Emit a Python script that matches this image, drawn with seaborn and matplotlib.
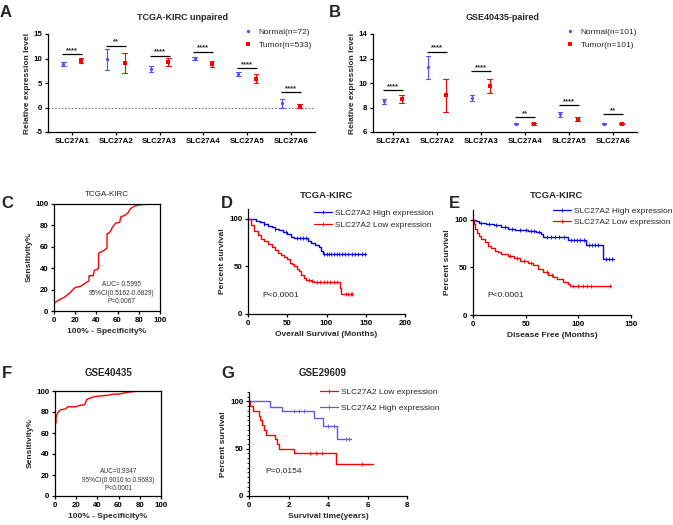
import numpy as np
import pandas as pd
import matplotlib
matplotlib.use("Agg")
import matplotlib.pyplot as plt
import seaborn as sns
from matplotlib.lines import Line2D

sns.set_style("ticks")
plt.rcParams['font.family'] = ['Liberation Sans', 'DejaVu Sans']
plt.rcParams['axes.linewidth'] = 0.9
plt.rcParams['xtick.major.width'] = 0.9
plt.rcParams['ytick.major.width'] = 0.9
plt.rcParams['xtick.color'] = 'black'
plt.rcParams['ytick.color'] = 'black'
plt.rcParams['axes.edgecolor'] = 'black'

W, H = 673, 525

# ---------------- data ----------------
genes = ["SLC27A1", "SLC27A2", "SLC27A3", "SLC27A4", "SLC27A5", "SLC27A6"]

# Panel A: TCGA-KIRC unpaired
a_normal_mean = [8.9, 9.8, 7.9, 9.9, 6.8, 0.9]
a_normal_low = [8.5, 7.6, 7.3, 9.6, 6.5, 0.0]
a_normal_high = [9.3, 12.0, 8.5, 10.3, 7.2, 1.8]
a_tumor_mean = [9.5, 9.0, 9.2, 8.8, 5.9, 0.3]
a_tumor_low = [9.0, 7.0, 8.5, 8.2, 5.0, -0.2]
a_tumor_high = [10.1, 11.2, 10.1, 9.5, 6.9, 0.7]
a_sig_y = [10.95, 12.65, 10.6, 11.4, 8.0, 3.2]
a_sig = ["****", "**", "****", "****", "****", "****"]

# Panel B: GSE40435 paired
b_normal_mean = [8.49, 11.28, 8.76, 6.68, 7.46, 6.68]
b_normal_low = [8.3, 10.35, 8.5, 6.62, 7.25, 6.64]
b_normal_high = [8.7, 12.2, 9.05, 6.74, 7.65, 6.72]
b_tumor_mean = [8.71, 8.98, 9.77, 6.62, 7.06, 6.68]
b_tumor_low = [8.4, 7.65, 9.2, 6.55, 6.9, 6.64]
b_tumor_high = [9.0, 10.3, 10.35, 6.7, 7.2, 6.74]
b_sig_y = [9.39, 12.56, 10.99, 7.22, 8.2, 7.44]
b_sig = ["****", "****", "****", "**", "****", "**"]

# Panel C: ROC TCGA-KIRC
c_fpr = [0, 0, 4, 10, 15, 20, 25, 31, 33, 33, 37, 38, 41, 42, 42, 44, 48, 50, 50, 53, 55, 58, 62, 63, 67, 70, 72, 76, 80, 90, 100]
c_tpr = [0, 7, 10, 13, 17, 22, 23, 27, 28, 33, 33, 38, 39, 40, 54, 55, 57, 59, 72, 74, 78, 82, 83, 88, 89.5, 92, 95.5, 98, 99, 100, 100]

# Panel F: ROC GSE40435
f_fpr = [0, 0, 1, 1, 2, 3, 5, 10, 12, 20, 22, 28, 30, 35, 40, 50, 55, 60, 65, 70, 80, 100]
f_tpr = [0, 68, 70, 75, 78, 80, 82, 83, 85, 85, 86, 87, 92, 94, 95, 96, 97, 97, 98, 99, 100, 100]

# Panel D: OS TCGA-KIRC
d_high_t = [0, 5, 10, 15, 20, 25, 30, 35, 40, 45, 50, 55, 58, 77, 80, 85, 90, 93, 95, 150]
d_high_s = [100, 99, 97.5, 96, 94, 92, 91, 89, 88, 86, 84, 81, 79.5, 77, 74, 72, 70, 66, 63, 63]
d_high_c = [20, 35, 48, 62, 66, 70, 74, 97, 100, 103, 106, 110, 113, 116, 120, 124, 128, 132, 136, 140, 145, 149]
d_low_t = [0, 4, 8, 13, 17, 21, 25, 30, 34, 38, 42, 46, 50, 53, 56, 59, 62, 65, 68, 71, 74, 80, 84, 117, 119, 134]
d_low_s = [100, 93, 87, 82.5, 79, 76, 73, 70, 67, 64, 62, 60, 58, 53, 52, 50, 47, 44.6, 41, 38, 36, 35, 34, 27, 21, 21]
d_low_c = [78, 82, 88, 92, 97, 100, 105, 110, 113, 125, 128, 131, 133]

# Panel E: DFS TCGA-KIRC
e_high_t = [0, 3, 6, 12, 20, 27, 33, 40, 52, 60, 65, 66, 90, 107, 123, 134]
e_high_s = [100, 98, 96.5, 95.5, 94.5, 92.5, 90.5, 89.5, 88, 87, 85, 82, 79, 73, 59, 59]
e_high_c = [8, 15, 22, 30, 37, 45, 50, 55, 58, 63, 70, 74, 78, 82, 86, 93, 96, 99, 102, 105, 110, 113, 116, 119, 126, 129, 132]
e_low_t = [0, 1, 2, 4, 6, 8, 11, 14, 17, 20.5, 24, 27, 33, 39, 45, 52, 57, 61.5, 66, 71, 76, 80, 85, 90, 92, 131]
e_low_s = [100, 95, 90, 86, 83, 80, 76, 72.7, 70, 67.5, 65.5, 64, 61.5, 59.4, 57, 55, 52, 48, 45, 42, 39.5, 37.8, 35, 32.5, 30, 30]
e_low_c = [35, 42, 48, 55, 70, 75, 95, 100, 104, 108, 112, 130]

# Panel G: GSE29609
g_low_t = [0, 0.05, 0.2, 0.5, 0.58, 0.67, 0.76, 0.85, 1.3, 1.41, 1.5, 2.28, 4.4, 6.3]
g_low_s = [100, 95, 90, 85, 80, 75, 70, 65, 60, 55, 50, 45, 34, 34]
g_low_c = [3.1, 3.4, 3.7, 5.7]
g_high_t = [0, 1.05, 1.65, 3.3, 3.75, 4.45, 5.15]
g_high_s = [100, 94.5, 89.5, 82, 74.5, 60, 60]
g_high_c = [2.3, 2.55, 2.8, 4.0, 4.3, 4.9, 5.05]

BLUE_PT = "#5050ff"
BLUE_KM = "#0000ff"
BLUE_G = "#5c5cf2"
RED = "#ff0000"

# ---------------- helpers ----------------
fig = plt.figure(figsize=(W / 100, H / 100), dpi=100)


def rect(l, t, r, b):
    return [l / W, 1 - b / H, (r - l) / W, (b - t) / H]


def fx(x):
    return x / W


def fy(y):
    return 1 - y / H


TICK_FS = 5.7
LAB_FS = 6.0


def style_ticks(ax, xticks, yticks, xlabels=None):
    ax.set_xticks(xticks, xlabels if xlabels is not None else [str(v) for v in xticks],
                  fontsize=TICK_FS, fontweight="bold")
    ax.set_yticks(yticks, [str(v) for v in yticks], fontsize=TICK_FS, fontweight="bold")
    ax.tick_params(length=2.5, pad=1.5, direction="out")


def letter(x, y, s):
    fig.text(fx(x), fy(y), s, fontsize=12, fontweight="bold", ha="left", va="top")


def expr_panel(r, nm, nl, nh, tm, tl, th, sig_y, sig, ylim, yticks, xlim, blue):
    ax = fig.add_axes(rect(*r))
    rows = []
    for g, lo, m, hi in zip(genes, nl, nm, nh):
        for v in (lo, m, hi):
            rows.append((g, "Normal", v))
    for g, lo, m, hi in zip(genes, tl, tm, th):
        for v in (lo, m, hi):
            rows.append((g, "Tumor", v))
    df = pd.DataFrame(rows, columns=["gene", "group", "value"])
    sns.pointplot(data=df, x="gene", y="value", hue="group", order=genes,
                  hue_order=["Normal", "Tumor"], estimator="median",
                  errorbar=lambda v: (v.min(), v.max()), dodge=0.4,
                  markers=["o", "s"], linestyle="none",
                  palette={"Normal": blue, "Tumor": RED}, capsize=0.1,
                  markersize=2.4, markeredgewidth=0, linewidth=0.8,
                  legend=False, ax=ax)
    for i, (y, s) in enumerate(zip(sig_y, sig)):
        ax.hlines(y, i - 0.23, i + 0.23, color="black", lw=0.9)
        ax.text(i, y, s, ha="center", va="bottom", fontsize=5.5, fontweight="bold")
    ax.set_xlim(*xlim)
    ax.set_ylim(*ylim)
    style_ticks(ax, list(range(len(genes))), yticks, genes)
    ax.set_xlabel("")
    ax.set_ylabel("Relative expression level", fontsize=LAB_FS, fontweight="bold", labelpad=2)
    sns.despine(ax=ax)
    handles = [Line2D([], [], ls="none", marker="o", color=blue, markersize=2.4, mew=0),
               Line2D([], [], ls="none", marker="s", color=RED, markersize=2.4, mew=0)]
    return ax, handles


def km_panel(r, curves, xlim, xticks, xlabel, ylabel_pad=2):
    ax = fig.add_axes(rect(*r))
    for t, s, c, color in curves:
        sns.lineplot(x=t, y=s, drawstyle="steps-post", color=color, lw=1.0,
                     estimator=None, sort=False, legend=False, ax=ax)
        t_arr = np.asarray(t)
        s_arr = np.asarray(s)
        idx = np.searchsorted(t_arr, np.asarray(c), side="right") - 1
        sns.scatterplot(x=c, y=s_arr[idx], marker="|", color=color, s=7,
                        linewidth=0.6, legend=False, ax=ax)
    ax.set_xlim(*xlim)
    ax.set_ylim(0, 110)
    style_ticks(ax, xticks, [0, 50, 100])
    ax.set_xlabel(xlabel, fontsize=LAB_FS, fontweight="bold", labelpad=3)
    ax.set_ylabel("Percent survival", fontsize=LAB_FS, fontweight="bold", labelpad=ylabel_pad)
    sns.despine(ax=ax)
    return ax


def roc_panel(r, fpr, tpr, txt, txt_xy):
    ax = fig.add_axes(rect(*r))
    sns.lineplot(x=fpr, y=tpr, color=RED, lw=1.0, estimator=None, sort=False,
                 legend=False, ax=ax)
    ax.set_xlim(0, 100)
    ax.set_ylim(0, 100)
    style_ticks(ax, [0, 20, 40, 60, 80, 100], [0, 20, 40, 60, 80, 100])
    ax.tick_params(top=False, right=False)
    ax.set_xlabel("100% - Specificity%", fontsize=LAB_FS, fontweight="bold", labelpad=3)
    ax.set_ylabel("Sensitivity%", fontsize=LAB_FS, fontweight="bold", labelpad=2)
    ax.text(txt_xy[0], txt_xy[1], txt, ha="center", va="center", fontsize=4.7,
            color="#333333", linespacing=1.25)
    return ax


def km_legend(ax, labels, colors, x, y, spacing):
    handles = [Line2D([], [], color=c, lw=0.9, marker="|", markersize=2.5, mew=0.6) for c in colors]
    ax.legend(handles, labels, loc="upper left", bbox_to_anchor=(fx(x), fy(y)),
              bbox_transform=fig.transFigure, frameon=False, fontsize=6,
              handlelength=2.2, handletextpad=0.3, borderpad=0, borderaxespad=0,
              labelspacing=spacing)


# ---------------- Panel A ----------------
axA, hA = expr_panel((48, 34, 315, 132), a_normal_mean, a_normal_low, a_normal_high,
                     a_tumor_mean, a_tumor_low, a_tumor_high, a_sig_y, a_sig,
                     (-5, 15), [-5, 0, 5, 10, 15], (-0.55, 5.55), BLUE_PT)
axA.axhline(0, color="#777777", ls=(0, (1.5, 1.5)), lw=0.8, zorder=0)
axA.legend(hA, ["Normal(n=72)", "Tumor(n=533)"], loc="upper left",
           bbox_to_anchor=(fx(243), fy(28)), bbox_transform=fig.transFigure,
           frameon=False, fontsize=6, handlelength=1.2, handletextpad=0.7,
           borderpad=0, borderaxespad=0, labelspacing=0.6)
fig.text(fx(183), fy(17), "TCGA-KIRC unpaired", ha="center", va="center",
         fontsize=6.5, fontweight="bold")
letter(0, 5, "A")

# ---------------- Panel B ----------------
axB, hB = expr_panel((373, 34, 637, 132), b_normal_mean, b_normal_low, b_normal_high,
                     b_tumor_mean, b_tumor_low, b_tumor_high, b_sig_y, b_sig,
                     (6, 14), [6, 8, 10, 12, 14], (-0.45, 5.55), BLUE_PT)
axB.legend(hB, ["Normal(n=101)", "Tumor(n=101)"], loc="upper left",
           bbox_to_anchor=(fx(565), fy(28)), bbox_transform=fig.transFigure,
           frameon=False, fontsize=6, handlelength=1.2, handletextpad=0.7,
           borderpad=0, borderaxespad=0, labelspacing=0.6)
fig.text(fx(503), fy(17), "GSE40435-paired", ha="center", va="center",
         fontsize=6.5, fontweight="bold")
letter(329, 5, "B")

# ---------------- Panel C ----------------
axC = roc_panel((54, 204, 160, 311), c_fpr, c_tpr,
                "AUC= 0.5995\n95%CI(0.5162-0.6829)\nP=0.0067", (64, 16.8))
fig.text(fx(107), fy(194), "TCGA-KIRC", ha="center", va="center", fontsize=5.8)
letter(1, 196, "C")

# ---------------- Panel D ----------------
axD = km_panel((248, 209, 405, 314),
               [(d_high_t, d_high_s, d_high_c, BLUE_KM), (d_low_t, d_low_s, d_low_c, RED)],
               (0, 200), [0, 50, 100, 150, 200], "Overall Survival (Months)")
km_legend(axD, ["SLC27A2 High expression", "SLC27A2 Low expression"], [BLUE_KM, RED], 314, 209, 0.5)
axD.text(18, 19, "P<0.0001", fontsize=6, ha="left", va="center", color="#222222")
fig.text(fx(327), fy(196), "TCGA-KIRC", ha="center", va="center", fontsize=6.8, fontweight="bold")
letter(221, 196, "D")

# ---------------- Panel E ----------------
axE = km_panel((473, 210, 631, 315),
               [(e_high_t, e_high_s, e_high_c, BLUE_KM), (e_low_t, e_low_s, e_low_c, RED)],
               (0, 150), [0, 50, 100, 150], "Disease Free (Months)")
km_legend(axE, ["SLC27A2 High expression", "SLC27A2 Low expression"], [BLUE_KM, RED], 553, 207, 0.4)
axE.text(13.3, 20, "P<0.0001", fontsize=6, ha="left", va="center", color="#222222")
fig.text(fx(557), fy(196), "TCGA-KIRC", ha="center", va="center", fontsize=6.8, fontweight="bold")
letter(449, 196, "E")

# ---------------- Panel F ----------------
axF = roc_panel((55, 391, 161, 496), f_fpr, f_tpr,
                "AUC=0.9347\n95%CI(0.9010 to 0.9683)\nP<0.0001", (60, 15.2))
fig.text(fx(108), fy(373), "GSE40435", ha="center", va="center", fontsize=7, fontweight="bold")
letter(2, 366, "F")

# ---------------- Panel G ----------------
axG = km_panel((249, 392, 407, 496),
               [(g_high_t, g_high_s, g_high_c, BLUE_G), (g_low_t, g_low_s, g_low_c, RED)],
               (0, 8), [0, 2, 4, 6, 8], "Survival time(years)")
axG.set_yticks(np.arange(0, 111, 5), minor=True)
axG.tick_params(axis="y", which="minor", length=1.5, width=0.6)
km_legend(axG, ["SLC27A2 Low expression", "SLC27A2 High expression"], [RED, BLUE_G], 320, 388, 1.0)
axG.text(0.81, 25.4, "P=0.0154", fontsize=6, ha="left", va="center", color="#222222")
fig.text(fx(323), fy(373), "GSE29609", ha="center", va="center", fontsize=7, fontweight="bold")
letter(221, 366, "G")

fig.savefig("out.png", dpi=100)
